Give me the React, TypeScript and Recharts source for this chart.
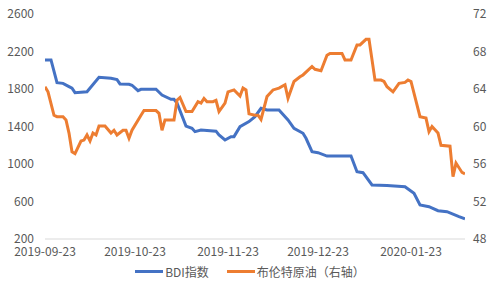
import React from 'react';
import { LineChart, Line, XAxis, YAxis, Legend } from 'recharts';

const bdiDates = [
  '2019-09-23','2019-09-25','2019-09-27','2019-09-29','2019-10-01','2019-10-02','2019-10-03','2019-10-07',
  '2019-10-11','2019-10-15','2019-10-17','2019-10-18','2019-10-21','2019-10-22','2019-10-24','2019-10-25',
  '2019-10-30','2019-11-01','2019-11-04','2019-11-05','2019-11-06','2019-11-09','2019-11-11','2019-11-12',
  '2019-11-14','2019-11-19','2019-11-20','2019-11-22','2019-11-24','2019-11-25','2019-11-27','2019-11-30',
  '2019-12-02','2019-12-04','2019-12-06','2019-12-10','2019-12-13','2019-12-15','2019-12-18','2019-12-19',
  '2019-12-21','2019-12-23','2019-12-26','2020-01-03','2020-01-05','2020-01-07','2020-01-10','2020-01-15',
  '2020-01-21','2020-01-24','2020-01-26','2020-01-29','2020-02-01','2020-02-04','2020-02-08','2020-02-10',
];
const bdiValues = [
  2110, 2110, 1868, 1860, 1825, 1808, 1761, 1770,
  1925, 1915, 1900, 1854, 1851, 1840, 1782, 1797,
  1797, 1736, 1690, 1690, 1650, 1405, 1381, 1345,
  1362, 1350, 1310, 1256, 1292, 1292, 1398, 1452,
  1505, 1594, 1576, 1576, 1470, 1381, 1328, 1274,
  1131, 1121, 1085, 1085, 918, 907, 776, 770,
  758, 687, 563, 545, 502, 491, 438, 415,
];

const brentDates = [
  '2019-09-23','2019-09-24','2019-09-26','2019-09-27','2019-09-29','2019-09-30','2019-10-01','2019-10-02',
  '2019-10-03','2019-10-05','2019-10-06','2019-10-07','2019-10-08','2019-10-09','2019-10-10','2019-10-11',
  '2019-10-13','2019-10-15','2019-10-16','2019-10-17','2019-10-19','2019-10-20','2019-10-21','2019-10-22',
  '2019-10-25','2019-10-26','2019-10-30','2019-10-31','2019-11-01','2019-11-02','2019-11-05','2019-11-06',
  '2019-11-07','2019-11-09','2019-11-11','2019-11-13','2019-11-14','2019-11-15','2019-11-16','2019-11-18',
  '2019-11-19','2019-11-20','2019-11-22','2019-11-23','2019-11-25','2019-11-27','2019-11-28','2019-11-29',
  '2019-11-30','2019-12-02','2019-12-03','2019-12-04','2019-12-06','2019-12-08','2019-12-10','2019-12-12',
  '2019-12-13','2019-12-15','2019-12-17','2019-12-18','2019-12-21','2019-12-22','2019-12-24','2019-12-26',
  '2019-12-27','2019-12-31','2020-01-01','2020-01-03','2020-01-05','2020-01-06','2020-01-08','2020-01-09',
  '2020-01-11','2020-01-13','2020-01-14','2020-01-15','2020-01-17','2020-01-19','2020-01-21','2020-01-22',
  '2020-01-23','2020-01-26','2020-01-28','2020-01-29','2020-01-30','2020-02-01','2020-02-02','2020-02-05',
  '2020-02-06','2020-02-07','2020-02-09','2020-02-10',
];
const brentValues = [
  64.25, 63.7, 61.2, 61.05, 61.05, 60.7, 59.3, 57.3,
  57.1, 58.45, 58.55, 59.1, 58.45, 59.3, 59.1, 60.05,
  60.05, 59.3, 59.6, 59.1, 59.6, 59.6, 58.75, 59.6,
  61.2, 61.7, 61.7, 61.4, 59.6, 60.7, 60.7, 62.8,
  63.1, 61.6, 61.6, 62.65, 62.5, 63.0, 62.65, 62.65,
  62.8, 61.6, 62.5, 63.7, 63.9, 63.25, 64.1, 63.9,
  61.35, 61.2, 61.2, 60.75, 63.2, 63.9, 64.1, 64.45,
  63.0, 64.8, 65.3, 65.5, 66.4, 66.1, 65.95, 67.6,
  67.8, 67.8, 67.1, 67.1, 68.7, 68.7, 69.3, 69.3,
  64.95, 64.95, 64.8, 64.25, 63.7, 64.6, 64.7, 64.95,
  64.8, 61.05, 60.9, 59.45, 60.0, 59.3, 58.0, 57.9,
  54.65, 56.1, 55.1, 54.95,
];

const xTickLabels = ['2019-09-23', '2019-10-23', '2019-11-23', '2019-12-23', '2020-01-23'];
const xStart = '2019-09-23';
const xEnd = '2020-02-10';
const leftTicks = [200, 600, 1000, 1400, 1800, 2200, 2600];
const rightTicks = [48, 52, 56, 60, 64, 68, 72];
const seriesNames = ['BDI指数', '布伦特原油（右轴）'];

const toT = (s: string) => Date.parse(s);
const fmt = (t: number) => new Date(t).toISOString().slice(0, 10);

const bdiData = bdiDates.map((d, i) => ({ t: toT(d), v: bdiValues[i] }));
const brentData = brentDates.map((d, i) => ({ t: toT(d), v: brentValues[i] }));

const FONT = '"Noto Sans CJK SC", "Noto Sans", sans-serif';
const tickStyle = { fill: '#595959', fontSize: 12, fontFamily: FONT };

const LegendContent = () => (
  <div style={{ display: 'flex', justifyContent: 'center', alignItems: 'center', fontFamily: FONT, fontSize: 12, color: '#595959' }}>
    <div style={{ display: 'flex', alignItems: 'center', marginRight: 18 }}>
      <span style={{ display: 'inline-block', width: 28, height: 3, background: '#4472C4', marginRight: 2 }} />
      <span>{seriesNames[0]}</span>
    </div>
    <div style={{ display: 'flex', alignItems: 'center' }}>
      <span style={{ display: 'inline-block', width: 28, height: 3, background: '#ED7D31', marginRight: 2 }} />
      <span>{seriesNames[1]}</span>
    </div>
  </div>
);

export default function App() {
  return (
    <div style={{ position: 'absolute', left: 0, top: 0, background: '#fff' }}>
      <LineChart width={500} height={291} margin={{ top: 14, right: 0, left: 0, bottom: 0 }}>
        <XAxis
          dataKey="t"
          type="number"
          domain={[toT(xStart), toT(xEnd)]}
          ticks={xTickLabels.map(toT)}
          tickFormatter={fmt}
          allowDataOverflow
          tick={tickStyle}
          tickLine={false}
          axisLine={{ stroke: '#d9d9d9' }}
          height={24}
        />
        <YAxis
          yAxisId="left"
          orientation="left"
          domain={[200, 2600]}
          ticks={leftTicks}
          tick={tickStyle}
          tickLine={false}
          axisLine={false}
          tickMargin={5}
          width={45}
        />
        <YAxis
          yAxisId="right"
          orientation="right"
          domain={[48, 72]}
          ticks={rightTicks}
          tick={tickStyle}
          tickLine={false}
          axisLine={false}
          width={35}
        />
        <Legend verticalAlign="bottom" height={28} content={<LegendContent />} />
        <Line
          yAxisId="left"
          data={bdiData}
          dataKey="v"
          name={seriesNames[0]}
          stroke="#4472C4"
          strokeWidth={3}
          dot={false}
          type="linear"
          isAnimationActive={false}
        />
        <Line
          yAxisId="right"
          data={brentData}
          dataKey="v"
          name={seriesNames[1]}
          stroke="#ED7D31"
          strokeWidth={3}
          dot={false}
          type="linear"
          isAnimationActive={false}
        />
      </LineChart>
    </div>
  );
}
